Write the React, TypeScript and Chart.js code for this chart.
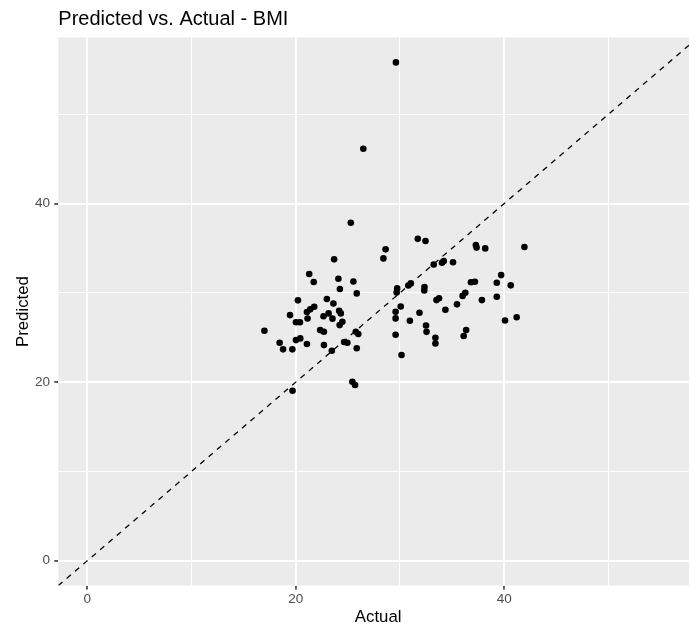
import { useEffect, useRef } from 'react';
import { Chart, registerables } from 'chart.js';

Chart.register(...registerables);

// ---- data ----
const actual = [
  29.61, 26.48, 25.28, 28.62, 28.41, 23.68, 21.29, 21.72, 24.09, 25.53,
  24.23, 25.85, 20.21, 22.98, 23.61, 21.77, 21.39, 21.07, 19.45, 23.15,
  24.16, 24.32, 22.66, 23.52, 21.13, 20.02, 20.40, 24.47, 24.21, 16.99,
  22.34, 22.70, 18.45, 18.78, 19.67, 20.02, 20.43, 21.07, 22.70, 23.46,
  24.64, 24.95, 25.85, 25.76, 26.00, 25.43, 25.69, 19.69, 29.73, 29.68,
  29.58, 29.58, 29.58, 31.71, 32.45, 33.24, 34.03, 34.20, 35.09, 30.80,
  31.04, 32.35, 32.33, 33.50, 33.75, 36.27, 36.01, 30.07, 31.87, 34.36,
  35.47, 30.95, 32.50, 32.55, 33.40, 33.40, 36.35, 36.11, 30.15, 37.28,
  37.35, 38.18, 41.94, 39.71, 39.29, 40.63, 36.81, 37.19, 37.86, 39.29,
  40.08, 41.20,
];
const predicted = [
  55.81, 46.14, 37.85, 34.87, 33.86, 33.75, 32.11, 31.21, 31.58, 31.27,
  30.43, 29.94, 29.16, 29.31, 28.80, 28.44, 28.15, 27.85, 27.51, 27.70,
  28.00, 27.70, 27.38, 27.11, 27.12, 26.70, 26.70, 26.76, 26.39, 25.76,
  25.83, 25.64, 24.41, 23.67, 23.67, 24.71, 24.90, 24.27, 24.15, 23.52,
  24.49, 24.41, 23.79, 25.64, 25.39, 20.04, 19.68, 19.04, 30.50, 30.03,
  27.88, 27.14, 25.31, 36.05, 35.80, 33.17, 33.37, 33.56, 33.43, 30.82,
  31.06, 30.65, 30.26, 29.19, 29.40, 30.01, 29.66, 28.47, 27.77, 28.11,
  28.71, 26.88, 26.34, 25.63, 24.97, 24.32, 25.83, 25.16, 23.03, 35.35,
  35.07, 34.98, 35.13, 31.99, 31.13, 30.84, 31.18, 31.24, 29.19, 29.56,
  26.90, 27.26,
];
const gridValues = [0, 10, 20, 30, 40, 50];
const labelledTicks = [0, 20, 40];
const axisLimits = [-2.79, 58.6];
const chartTitle = 'Predicted vs. Actual - BMI';
const xTitle = 'Actual';
const yTitle = 'Predicted';

const FONT = '"Liberation Sans", Arial, Helvetica, sans-serif';

export default function App() {
  const ref = useRef<HTMLCanvasElement | null>(null);

  useEffect(() => {
    document.body.style.margin = '0';
    const canvas = ref.current;
    if (!canvas) return;

    const panelBg = {
      id: 'panelBg',
      beforeDraw(chart: any) {
        const { ctx, chartArea: a } = chart;
        ctx.save();
        ctx.fillStyle = '#EBEBEB';
        ctx.fillRect(a.left, a.top, a.right - a.left, a.bottom - a.top);
        ctx.restore();
      },
    };

    const texts = {
      id: 'texts',
      afterDraw(chart: any) {
        const { ctx, chartArea: a } = chart;
        ctx.save();
        ctx.fillStyle = '#000000';
        ctx.textBaseline = 'alphabetic';
        ctx.textAlign = 'left';
        ctx.font = `20px ${FONT}`;
        ctx.fillText(chartTitle, a.left, 25);
        ctx.font = `16.8px ${FONT}`;
        ctx.textAlign = 'center';
        ctx.fillText(xTitle, (a.left + a.right) / 2, 621.7);
        ctx.translate(28.3, (a.top + a.bottom) / 2);
        ctx.rotate(-Math.PI / 2);
        ctx.fillText(yTitle, 0, 0);
        ctx.restore();
      },
    };

    const setTicks = (scale: any) => {
      scale.ticks = gridValues.map((v) => ({ value: v }));
    };
    const isMajor = (ctx: any) => labelledTicks.includes(ctx.tick?.value);

    const gridOpts = {
      color: '#FFFFFF',
      lineWidth: (ctx: any) => (isMajor(ctx) ? 1.9 : 1.0),
      tickColor: (ctx: any) => (isMajor(ctx) ? '#333333' : 'rgba(0,0,0,0)'),
      tickWidth: 1.6,
      tickLength: 4,
      drawTicks: true,
    };
    const tickOpts = {
      color: '#4D4D4D',
      font: { family: FONT, size: 13.5 },
      maxRotation: 0,
      autoSkip: false,
      callback: (v: any) => (labelledTicks.includes(v) ? String(v) : ''),
    };

    const chart = new Chart(canvas, {
      type: 'scatter',
      data: {
        datasets: [
          {
            type: 'line',
            data: [
              { x: axisLimits[0], y: axisLimits[0] },
              { x: axisLimits[1], y: axisLimits[1] },
            ],
            borderColor: '#000000',
            borderWidth: 1.3,
            borderDash: [5.5, 5.5],
            pointRadius: 0,
            fill: false,
          },
          {
            type: 'scatter',
            data: actual.map((x, i) => ({ x, y: predicted[i] })),
            backgroundColor: '#000000',
            borderWidth: 0,
            pointRadius: 3.3,
          },
        ],
      },
      options: {
        animation: false,
        responsive: false,
        devicePixelRatio: 1,
        layout: { padding: { top: 37.5, right: 1.7, left: 0, bottom: 0 } },
        plugins: {
          legend: { display: false },
          tooltip: { enabled: false },
          title: { display: false },
        },
        scales: {
          x: {
            type: 'linear',
            min: axisLimits[0],
            max: axisLimits[1],
            afterBuildTicks: setTicks,
            afterFit: (s: any) => {
              s.height = 42.4;
            },
            grid: gridOpts as any,
            border: { display: false },
            ticks: { ...tickOpts, padding: 1.4 } as any,
          },
          y: {
            type: 'linear',
            min: axisLimits[0],
            max: axisLimits[1],
            afterBuildTicks: setTicks,
            afterFit: (s: any) => {
              s.width = 58.3;
            },
            grid: gridOpts as any,
            border: { display: false },
            ticks: { ...tickOpts, padding: 4.3 } as any,
          },
        },
      },
      plugins: [panelBg, texts],
    });

    return () => chart.destroy();
  }, []);

  return (
    <div style={{ width: 689, height: 628, overflow: 'hidden', position: 'relative' }}>
      <canvas ref={ref} width={702} height={628} style={{ width: 702, height: 628, display: 'block' }} />
    </div>
  );
}
